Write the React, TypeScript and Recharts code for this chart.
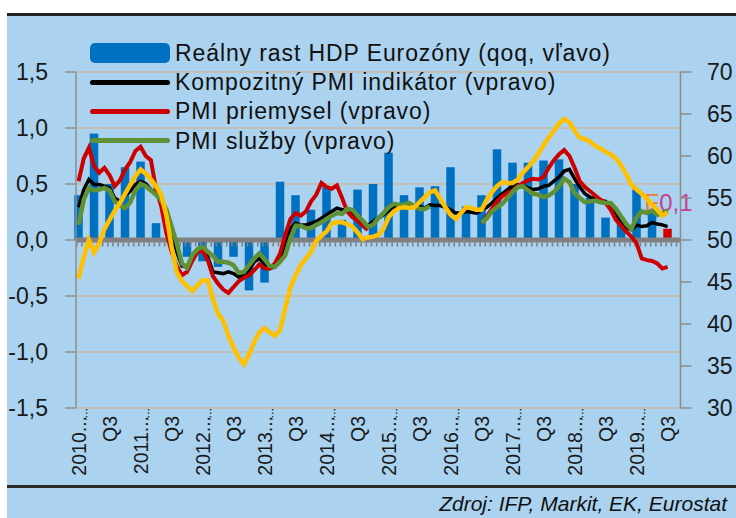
import React from 'react';
import {
  ComposedChart,
  Bar,
  Line,
  XAxis,
  YAxis,
  CartesianGrid,
  ReferenceLine,
  Legend,
} from 'recharts';

const FONT = '"Liberation Sans", Arial, sans-serif';

// monthly categories Jan 2010 .. Sep 2019
const years = [2010, 2011, 2012, 2013, 2014, 2015, 2016, 2017, 2018, 2019];
const monthKeys = years
  .flatMap((y) => Array.from({ length: 12 }, (_, k) => `${y}-${String(k + 1).padStart(2, '0')}`))
  .slice(0, 117);

// labels shown every 6 months (Jan / Jul)
const halfYearLabels = [
  '2010...', 'Q3', '2011...', 'Q3', '2012...', 'Q3', '2013...', 'Q3', '2014...', 'Q3',
  '2015...', 'Q3', '2016...', 'Q3', '2017...', 'Q3', '2018...', 'Q3', '2019...', 'Q3',
];

// Real GDP growth, euro area, qoq % (2010 Q1 .. 2019 Q3), left axis
const gdpQoq = [
  0.4, 0.95, 0.5, 0.65, 0.7, 0.15, 0.05, -0.15, -0.19, -0.24,
  -0.15, -0.45, -0.38, 0.52, 0.4, 0.27, 0.48, 0.18, 0.45, 0.5,
  0.78, 0.4, 0.47, 0.48, 0.65, 0.3, 0.4, 0.81, 0.69, 0.69,
  0.71, 0.72, 0.5, 0.38, 0.2, 0.15, 0.45, 0.27, 0.1,
];

// monthly, Jan 2010 .. Jul 2019, right axis
const pmiComposite = [
  53.9, 56.0, 57.2, 56.6, 56.6, 56.4, 56.2, 55.0, 54.6, 55.3, 55.8, 56.6,
  57.0, 56.7, 56.0, 55.6, 54.4, 52.5, 50.4, 48.6, 46.9, 46.8, 48.0, 48.8,
  49.0, 48.0, 46.2, 46.1, 46.0, 46.2, 46.0, 45.6, 45.8, 46.4, 47.4, 47.8,
  47.2, 46.6, 46.8, 47.8, 49.6, 51.4, 52.0, 51.8, 51.8, 52.0, 52.2, 52.6,
  53.0, 53.4, 53.8, 53.6, 53.6, 53.1, 52.4, 52.0, 51.7, 52.2, 52.6, 53.0,
  53.5, 53.9, 54.1, 54.1, 54.0, 54.1, 54.0, 53.8, 54.2, 54.1, 54.1, 53.9,
  53.6, 53.2, 53.2, 53.4, 53.3, 53.2, 53.6, 53.9, 54.4, 55.0, 55.5, 56.0,
  56.4, 56.6, 56.5, 56.2, 56.0, 56.1, 56.4, 56.5, 57.0, 57.5, 58.2, 58.4,
  57.3, 56.3, 55.5, 55.1, 54.9, 54.7, 54.6, 54.0, 53.1, 52.2, 51.5, 51.2,
  51.8, 51.6, 51.7, 52.1, 51.9, 51.8, 51.6,
];

const pmiManufacturing = [
  57.0, 59.7, 61.0, 58.8, 58.0, 58.6, 57.7, 56.4, 57.1, 58.4, 59.3, 60.6,
  61.1, 60.0, 59.5, 56.0, 54.0, 50.8, 48.6, 46.9, 45.8, 46.2, 47.5, 48.6,
  48.7, 47.6, 45.7, 44.8, 44.1, 43.7, 44.4, 45.1, 45.5, 45.8, 46.4, 47.1,
  46.6, 46.6, 47.2, 48.4, 50.6, 52.5, 53.2, 52.9, 53.4, 54.6, 55.4, 56.8,
  56.3, 56.1, 56.5, 55.0, 53.4, 52.7, 52.3, 51.7, 51.2, null, null, null,
  null, null, null, null, null, null, null, null, null, null, null, null,
  null, null, null, null, null, null, 52.0, 52.8, 53.7, 54.6, 55.2, 55.6,
  55.9, 56.4, 56.8, 57.1, 57.3, 57.2, 57.5, 58.6, 59.5, 60.2, 60.7, 60.0,
  58.6, 57.0, 56.3, 55.8, 55.3, 54.8, 54.4, 53.6, 52.4, 51.7, 51.0, 50.4,
  49.6, 47.8, 47.6, 47.5, 47.2, 46.6, 46.8,
];

const pmiServices = [
  51.8, 54.8, 56.2, 55.9, 56.0, 56.2, 55.9, 54.6, 54.1, 53.8, 54.5, 55.9,
  56.7, 56.4, 55.9, 55.4, 54.7, 53.6, 51.6, 49.6, 47.2, 46.7, 48.2, 48.9,
  49.2, 48.6, 48.1, 47.4, 47.4, 47.3, 47.0, 46.1, 46.2, 47.0, 47.8, 48.4,
  47.7, 46.9, 46.8, 47.4, 48.2, 50.2, 51.7, 51.7, 51.4, 51.4, 51.8, 52.1,
  52.5, 52.9, 53.2, 53.1, 53.7, 53.6, 52.9, 52.3, 51.6, 51.8, 52.6, 53.2,
  53.9, 54.3, 54.2, 54.2, 54.4, 54.0, 53.7, 53.7, 54.0, null, null, null,
  null, null, null, null, null, null, 52.0, 52.6, 53.4, 53.9, 54.3, 55.0,
  55.7, 56.3, 56.4, 55.9, 55.5, 55.4, 55.1, 55.3, 55.7, 56.4, 57.3, 56.9,
  55.6, 55.0, 54.5, 54.6, 54.7, 54.5, 54.4, 54.4, 53.7, 52.8, 51.9, 51.3,
  52.7, 53.4, 53.2, 53.5, 53.0, 53.2, 53.5,
];

// unlabelled yellow series (EK indicator), right axis
const ekIndicator = [
  45.4, 48.0, 50.0, 48.5, 49.6, 51.3, 52.4, 53.5, 54.4, 55.5, 56.6, 57.6,
  58.4, 57.9, 57.2, 56.4, 55.4, 52.9, 49.2, 46.2, 45.1, 44.5, 43.9, 44.6,
  45.2, 45.2, 43.0, 41.2, 40.4, 38.6, 37.2, 36.0, 35.2, 36.4, 37.9, 39.0,
  39.5, 39.0, 38.6, 39.3, 41.9, 44.4, 45.8, 47.0, 47.8, 48.6, 49.9, 50.5,
  51.0, 52.0, 52.1, 52.1, 51.9, 51.6, 50.9, 50.1, 50.3, 50.4, 50.6, 51.3,
  52.7, 53.4, 53.8, 53.9, 53.8, 53.9, 54.5, 55.1, 55.7, 55.9, 54.9, 53.9,
  53.0, 52.5, 53.2, 53.9, 53.8, 53.6, 53.6, 54.8, 55.7, 56.4, 56.9, 56.8,
  56.8, 57.2, 58.0, 58.7, 59.4, 60.3, 61.3, 62.2, 63.0, 63.9, 64.4, 64.0,
  63.0, 62.2, 62.0, 61.7, 61.2, 60.9, 60.5, 60.2, 59.7, 58.9, 57.8, 56.6,
  56.0, 55.5, 54.9, 54.2, 53.6, 52.9, 53.3,
];

const leftTicks = [-1.5, -1, -0.5, 0, 0.5, 1, 1.5];
const rightTicks = [30, 35, 40, 45, 50, 55, 60, 65, 70];

const COLORS = {
  gdp: '#0070c0',
  flash: '#d00000',
  composite: '#000000',
  manufacturing: '#cc0000',
  services: '#5f9137',
  ek: '#ffc000',
  axis: '#8c8c8c',
  grid: '#c9b8a3',
  bg: '#abd2ef',
};

const legendRows = [
  { label: 'Reálny rast HDP Eurozóny (qoq, vľavo)', key: 'gdp', kind: 'bar' },
  { label: 'Kompozitný PMI indikátor (vpravo)', key: 'composite', kind: 'line' },
  { label: 'PMI priemysel (vpravo)', key: 'manufacturing', kind: 'line' },
  { label: 'PMI služby (vpravo)', key: 'services', kind: 'line' },
];

const flashMonthKey = monthKeys[(gdpQoq.length - 1) * 3];

const data = monthKeys.map((month, i) => ({
  month,
  gdp: i % 3 === 0 && i / 3 < gdpQoq.length ? gdpQoq[i / 3] : null,
  composite: pmiComposite[i] ?? null,
  manufacturing: pmiManufacturing[i] ?? null,
  services: pmiServices[i] ?? null,
  ek: ekIndicator[i] ?? null,
}));

const GdpBar = (props: any) => {
  const { x, y, width, height, payload } = props;
  if (!payload || payload.gdp == null) return null;
  const cx = x + width / 2;
  const top = Math.min(y, y + height);
  const h = Math.abs(height);
  const isFlash = payload.month === flashMonthKey;
  return (
    <g>
      <rect x={cx - 4.25} y={top} width={8.5} height={h} fill={isFlash ? COLORS.flash : COLORS.gdp} />
      {isFlash && (
        <text x={cx - 23} y={top - 18} fontSize={24} fontFamily={FONT}>
          <tspan fill="#ed7d31">F</tspan>
          <tspan fill="#c8418c">0,1</tspan>
        </text>
      )}
    </g>
  );
};

const MonthTick = (props: any) => {
  const { x, payload } = props;
  const mi = monthKeys.indexOf(payload.value);
  if (mi < 0 || mi % 6 !== 0) return null;
  const label = halfYearLabels[mi / 6];
  const ty = 416;
  return (
    <g>
      {mi % 12 === 0 && (
        <line x1={x + 8} x2={x + 8} y1={409} y2={420} stroke="#3a3a5a" strokeWidth={1.5} strokeDasharray="1.5 2" />
      )}
      <text
        x={x}
        y={ty}
        transform={`rotate(-90, ${x}, ${ty})`}
        textAnchor="end"
        dominantBaseline="central"
        fontSize={19.5}
        fontFamily={FONT}
        fill="#1a1a1a"
      >
        {label}
      </text>
    </g>
  );
};

// right-hand labels start at a fixed x, just past the tick marks
const RightTick = (props: any) => {
  const { y, payload } = props;
  return (
    <text x={707} y={y} dy="0.355em" textAnchor="start" fontSize={23} fontFamily={FONT} fill="#1a1a1a">
      {payload.value}
    </text>
  );
};

const LegendBox = () => (
  <div style={{ fontFamily: FONT, fontSize: 23, letterSpacing: 0.9, color: '#111' }}>
    {legendRows.map((r) => (
      <div key={r.key} style={{ display: 'flex', alignItems: 'center', height: 29.2, whiteSpace: 'nowrap' }}>
        <span
          style={{
            display: 'inline-block',
            width: 80,
            height: r.kind === 'bar' ? 20 : 5,
            borderRadius: r.kind === 'bar' ? 5 : 3,
            background: (COLORS as any)[r.key],
          }}
        />
        <span style={{ marginLeft: 5, lineHeight: '24px' }}>{r.label}</span>
      </div>
    ))}
  </div>
);

export default function App() {
  return (
    <div style={{ position: 'absolute', left: 0, top: 0, width: 736, height: 518, background: '#fff', overflow: 'hidden' }}>
      <div style={{ position: 'absolute', left: 7, top: 13, right: 0, bottom: 0, background: COLORS.bg, borderTop: '3px solid #222' }} />
      <div style={{ position: 'absolute', left: 7, right: 0, top: 485, height: 3, background: '#2a2a2a' }} />
      <div
        style={{
          position: 'absolute',
          right: 9,
          top: 492,
          fontFamily: FONT,
          fontStyle: 'italic',
          fontSize: 21,
          color: '#111',
          whiteSpace: 'nowrap',
        }}
      >
        Zdroj:  IFP, Markit, EK, Eurostat
      </div>
      <div style={{ position: 'absolute', left: 0, top: 0 }}>
        <ComposedChart
          width={736}
          height={518}
          data={data}
          margin={{ top: 72, right: 0, bottom: 0, left: 0 }}
          style={{ fontFamily: FONT }}
        >
          <CartesianGrid yAxisId="left" vertical={false} stroke={COLORS.grid} strokeWidth={1.5} />
          <XAxis
            dataKey="month"
            interval={5}
            height={110}
            axisLine={false}
            tickLine={false}
            tick={<MonthTick />}
          />
          <YAxis
            yAxisId="left"
            orientation="left"
            domain={[-1.5, 1.5]}
            ticks={leftTicks}
            interval={0}
            width={76}
            tickSize={11}
            tickMargin={17}
            tickFormatter={(v: number) => v.toFixed(1).replace('.', ',')}
            axisLine={{ stroke: COLORS.axis, strokeWidth: 1.5 }}
            tickLine={{ stroke: COLORS.axis, strokeWidth: 1.5 }}
            tick={{ fontSize: 23, fill: '#1a1a1a', fontFamily: FONT }}
          />
          <YAxis
            yAxisId="right"
            orientation="right"
            domain={[30, 70]}
            ticks={rightTicks}
            interval={0}
            width={55.5}
            tickSize={11}
            axisLine={{ stroke: COLORS.axis, strokeWidth: 1.5 }}
            tickLine={{ stroke: COLORS.axis, strokeWidth: 1.5 }}
            tick={<RightTick />}
          />
          <Legend
            layout="vertical"
            align="center"
            verticalAlign="middle"
            wrapperStyle={{ left: 90, top: 38.4, width: 'auto', height: 'auto' }}
            content={() => <LegendBox />}
          />
          <Bar yAxisId="left" dataKey="gdp" shape={<GdpBar />} isAnimationActive={false} legendType="none" />
          <ReferenceLine yAxisId="left" y={0} stroke="#808080" strokeWidth={5} />
          <ReferenceLine yAxisId="left" y={-0.04} stroke="#808080" strokeWidth={4} strokeDasharray="1.6 3.57" />
          <Line
            yAxisId="right"
            dataKey="composite"
            stroke={COLORS.composite}
            strokeWidth={3.5}
            dot={false}
            isAnimationActive={false}
          />
          <Line
            yAxisId="right"
            dataKey="manufacturing"
            stroke={COLORS.manufacturing}
            strokeWidth={4}
            dot={false}
            isAnimationActive={false}
          />
          <Line
            yAxisId="right"
            dataKey="services"
            stroke={COLORS.services}
            strokeWidth={4.5}
            dot={false}
            isAnimationActive={false}
          />
          <Line
            yAxisId="right"
            dataKey="ek"
            stroke={COLORS.ek}
            strokeWidth={4.5}
            dot={false}
            isAnimationActive={false}
            legendType="none"
          />
        </ComposedChart>
      </div>
    </div>
  );
}
